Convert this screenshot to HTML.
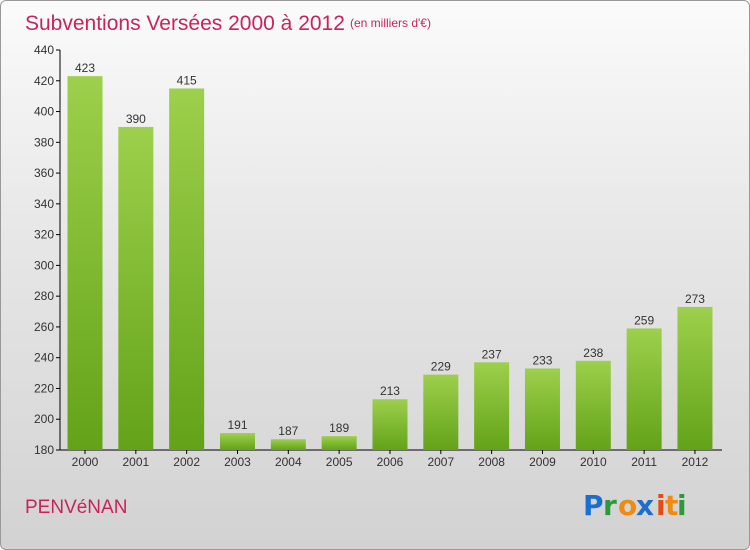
<!DOCTYPE html>
<html><head><meta charset="utf-8"><style>
body{margin:0;width:750px;height:550px;overflow:hidden;font-family:"Liberation Sans",sans-serif}
#bg{position:absolute;left:0;top:0;width:748px;height:548px;border:1px solid #999;border-radius:6px;background:linear-gradient(#fbfbfb,#e8e8e8 40%,#d2d2d2)}
</style></head><body>
<div id="bg"></div>
<svg id="c" width="750" height="550" style="position:absolute;left:0;top:0">
<defs><linearGradient id="g" x1="0" y1="0" x2="0" y2="1"><stop offset="0" stop-color="#9dd04c"/><stop offset="1" stop-color="#63a219"/></linearGradient></defs>
<text x="25" y="30" font-size="21" fill="#c8245a">Subventions Versées 2000 à 2012</text>
<text x="350" y="27" font-size="12" fill="#c8245a">(en milliers d'€)</text>
<text x="25" y="513" font-size="19" fill="#c8245a">PENVéNAN</text>
<g font-size="28" font-weight="bold" font-family="'DejaVu Sans',sans-serif">
<text x="583" y="515" fill="#1a6ed0">P</text><text x="603" y="515" fill="#2a9a3a">r</text><text x="618" y="515" fill="#f08a10">o</text><text x="636" y="515" fill="#1a6ed0">x</text><text x="656" y="515" fill="#e84a10">i</text><text x="665" y="515" fill="#f08a10">t</text><text x="677" y="515" fill="#2a9a3a">i</text></g>
</svg>
<script>
const categories=["2000","2001","2002","2003","2004","2005","2006","2007","2008","2009","2010","2011","2012"];
const values=[423,390,415,191,187,189,213,229,237,233,238,259,273];
const ticks=[180,200,220,240,260,280,300,320,340,360,380,400,420,440];
const svg=document.getElementById('c');const NS='http://www.w3.org/2000/svg';
const y=v=>450-(v-180)*400/260;
const x=i=>85+i*50.83;
function mk(t,a,p){const e=document.createElementNS(NS,t);for(const k in a)e.setAttribute(k,a[k]);(p||svg).appendChild(e);return e;}
const ax=mk('line',{x1:60,y1:50,x2:60,y2:450,stroke:'#000'});


const bx=mk('line',{x1:60,y1:450,x2:722,y2:450,stroke:'#000'});


ticks.forEach(t=>{
 mk('line',{x1:56,x2:60,y1:y(t),y2:y(t),stroke:'#000'});
 const tx=mk('text',{x:54,y:y(t)+4,'text-anchor':'end','font-size':12,fill:'#333'});tx.textContent=t;
 
 
});
categories.forEach((c,i)=>{
 const r=mk('rect',{x:x(i)-17.5,y:y(values[i]),width:35,height:450-y(values[i]),fill:'url(#g)'});
 
 
 const v=mk('text',{x:x(i),y:y(values[i])-4,'text-anchor':'middle','font-size':12,fill:'#333'});v.textContent=values[i];
 
 
 mk('line',{x1:x(i),x2:x(i),y1:450,y2:454,stroke:'#000'});
 const l=mk('text',{x:x(i),y:466,'text-anchor':'middle','font-size':12,fill:'#333'});l.textContent=c;
 
 
});
</script>
</body></html>
